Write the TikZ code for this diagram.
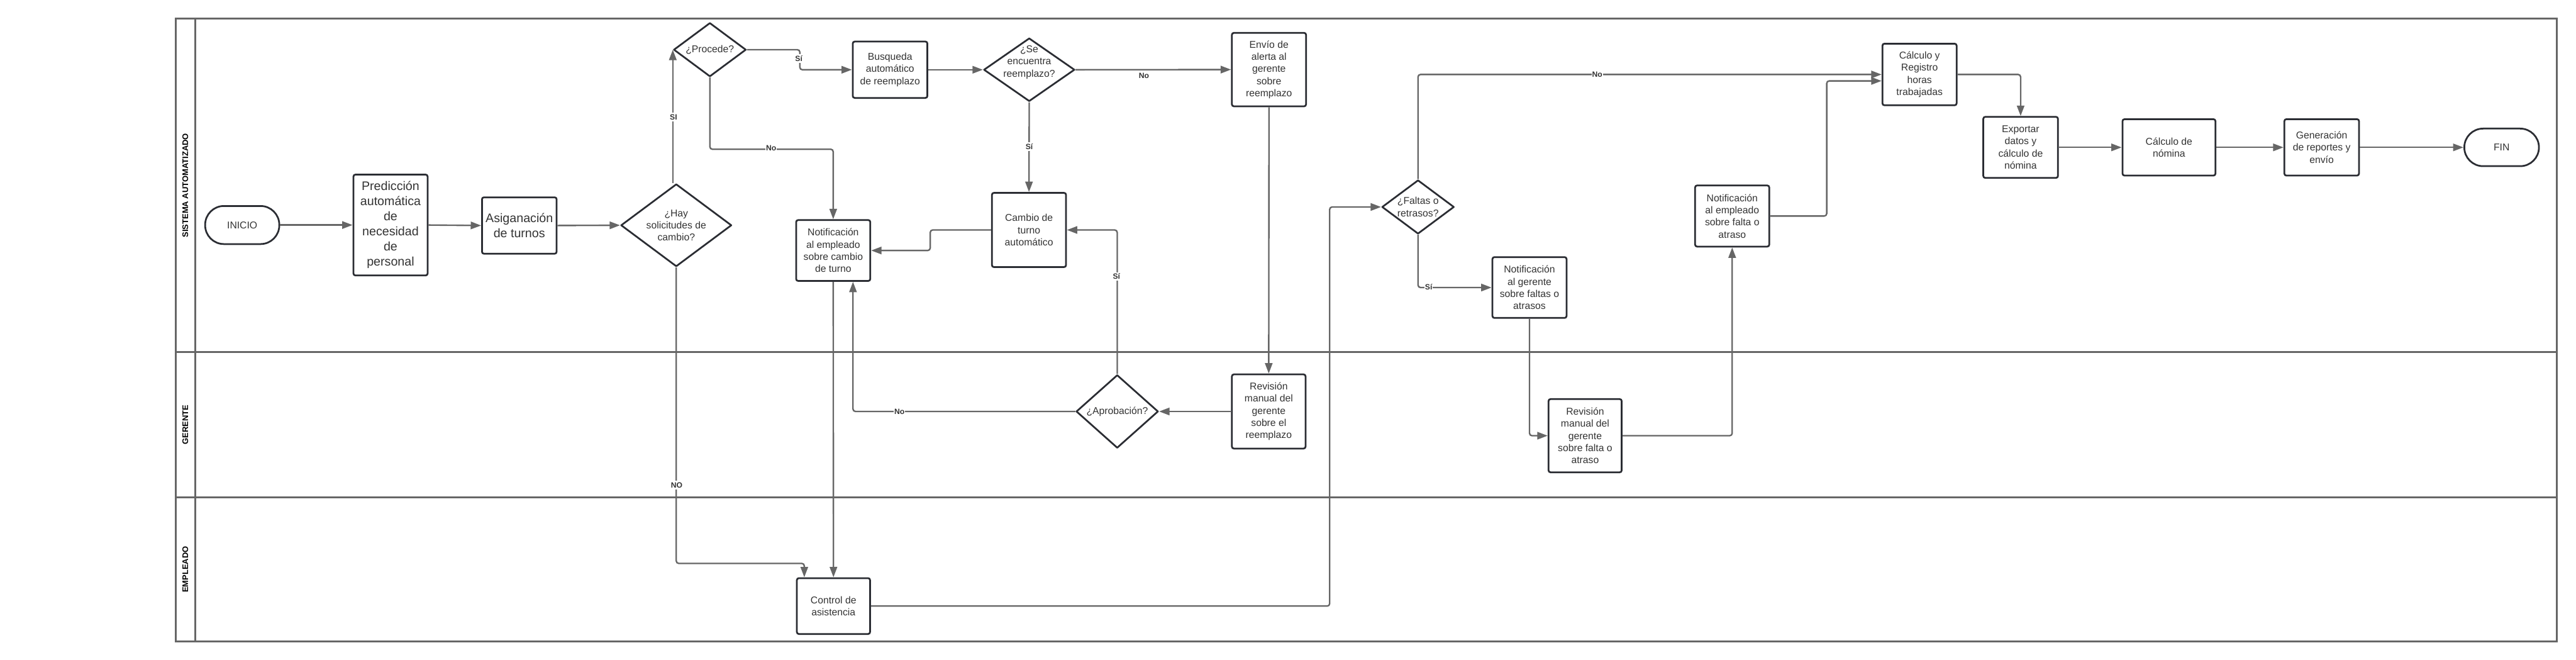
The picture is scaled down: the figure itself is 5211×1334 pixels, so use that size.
\documentclass[tikz,border=0pt]{standalone}
\usepackage{fontspec}
\setmainfont{Liberation Sans}
\usetikzlibrary{arrows.meta,shapes.geometric,calc}
\definecolor{conn}{HTML}{666666}
\definecolor{boxline}{HTML}{2B2D33}
\definecolor{txt}{HTML}{333333}
\begin{document}
\begin{tikzpicture}[x=1pt,y=-1pt,
  procbox/.style={draw=boxline, line width=3.5pt, rounded corners=4pt, fill=white, text=txt, align=center, inner sep=1pt, font=\fontsize{20}{24.6}\selectfont},
  bigproc/.style={procbox, font=\fontsize{25}{30.5}\selectfont},
  decbox/.style={draw=boxline, line width=3.5pt, line join=round, shape=diamond, inner sep=0pt, fill=white},
  dtext/.style={text=txt, align=center, inner sep=0pt, font=\fontsize{20}{24.6}\selectfont},
  termbox/.style={draw=boxline, line width=3.5pt, rounded corners=38pt, fill=white, text=txt, font=\fontsize{20}{24}\selectfont, minimum width=150pt, minimum height=77pt},
  arr/.style={draw=conn, line width=3pt, rounded corners=5pt, -{Triangle[length=21pt,width=15pt]}},
  lbl/.style={fill=white, text=txt, inner xsep=1pt, inner ysep=3pt, font=\fontsize{15.5}{16}\selectfont\bfseries},
  lanebox/.style={draw=conn, line width=3.5pt},
  lanetxt/.style={rotate=90, font=\fontsize{16.5}{17}\selectfont\bfseries, text=black}
]
\useasboundingbox (0,0) rectangle (5211,1334);

% swimlanes
\draw[lanebox] (356,38) rectangle (5172,1297);
\draw[lanebox] (395,38) -- (395,1297);
\draw[lanebox] (356,712) -- (5172,712);
\draw[lanebox] (356,1006) -- (5172,1006);
\node[lanetxt] (lane1) at (375,375) {SISTEMA AUTOMATIZADO};
\node[lanetxt] (lane2) at (375,859) {GERENTE};
\node[lanetxt] (lane3) at (375,1151.5) {EMPLEADO};

% nodes
\node[termbox] (inicio) at (490,455) {INICIO};
\node[bigproc, minimum width=150pt, minimum height=204pt] (pred) at (790,455) {Predicción\\automática\\de\\necesidad\\de\\personal};
\node[bigproc, minimum width=151pt, minimum height=114pt] (asig) at (1050.5,456) {Asiganación\\de turnos};
\node[decbox, minimum width=224pt, minimum height=167pt] (hay) at (1368,455.5) {};
\node[dtext] (hay-t) at (hay.center) {¿Hay\\solicitudes de\\cambio?};
\node[decbox, minimum width=146.5pt, minimum height=109pt] (proced) at (1436,100.5) {};
\node[dtext] (proced-t) at (proced.center) {¿Procede?};
\node[procbox, minimum width=151pt, minimum height=114pt] (busq) at (1800.5,141) {Busqueda\\automático\\de reemplazo};
\node[decbox, minimum width=184pt, minimum height=128pt] (seenc) at (2082,141) {};
\node[dtext] (seenc-t) at ([yshift=15pt]seenc.center) {¿Se\\encuentra\\reemplazo?};
\node[procbox, minimum width=150pt, minimum height=148.6pt] (envio) at (2567,140.7) {Envío de\\alerta al\\gerente\\sobre\\reemplazo};
\node[procbox, minimum width=150pt, minimum height=123pt] (notemp) at (1685.5,506.5) {Notificación\\al empleado\\sobre cambio\\de turno};
\node[procbox, minimum width=150pt, minimum height=150pt] (cambio) at (2081.5,465) {Cambio de\\turno\\automático};
\node[decbox, minimum width=166pt, minimum height=148pt] (aprob) at (2260,832) {};
\node[dtext] (aprob-t) at (aprob.center) {¿Aprobación?};
\node[procbox, minimum width=149pt, minimum height=150pt] (revr) at (2566.5,832) {Revisión\\manual del\\gerente\\sobre el\\reemplazo};
\node[procbox, minimum width=148pt, minimum height=113pt] (control) at (1686,1225.5) {Control de\\asistencia};
\node[decbox, minimum width=146pt, minimum height=109pt] (faltas) at (2868.5,418.5) {};
\node[dtext] (faltas-t) at (faltas.center) {¿Faltas o\\retrasos?};
\node[procbox, minimum width=150pt, minimum height=123pt] (notger) at (3094,581.4) {Notificación\\al gerente\\sobre faltas o\\atrasos};
\node[procbox, minimum width=148pt, minimum height=148pt] (revf) at (3206.5,881) {Revisión\\manual del\\gerente\\sobre falta o\\atraso};
\node[procbox, minimum width=150pt, minimum height=123.6pt] (notf) at (3504,436.8) {Notificación\\al empleado\\sobre falta o\\atraso};
\node[procbox, minimum width=150pt, minimum height=124.6pt] (calc) at (3883,150.6) {Cálculo y\\Registro\\horas\\trabajadas};
\node[procbox, minimum width=151pt, minimum height=123.5pt] (export) at (4087.5,298) {Exportar\\datos y\\cálculo de\\nómina};
\node[procbox, minimum width=188pt, minimum height=114pt] (nomina) at (4387.6,298) {Cálculo de\\nómina};
\node[procbox, minimum width=151pt, minimum height=114pt] (gen) at (4696.5,298) {Generación\\de reportes y\\envío};
\node[termbox, minimum width=151pt, minimum height=76pt] (fin) at (5060.5,298) {FIN};

% connectors
\draw[arr] (inicio.east) -- (pred.west);
\draw[arr] (pred.east) -- (asig.west);
\draw[arr] (asig.east) -- (hay.west);
\draw[arr] (proced.west |- hay.north) -- (proced.west);
\draw[arr] (proced.east) -- ++(107,0) |- (busq.west);
\draw[arr] (proced.south) -- ++(0,145) -| (notemp.north);
\draw[arr] (busq.east) -- (seenc.west);
\draw[arr] (seenc.east) -- (envio.west);
\draw[arr] (seenc.south) -- (cambio.north);
\draw[arr] (cambio.west) -- ++(-123,0) |- (notemp.east);
\draw[arr] (envio.south) -- (revr.north);
\draw[arr] (revr.west) -- (aprob.east);
\draw[arr] (aprob.north) |- (cambio.east);
\draw[arr] (aprob.west) -| ([xshift=40pt]notemp.south);
\draw[arr] (notemp.south) -- (control.north);
\draw[arr] (hay.south) -- ++(0,598.5) -| ([xshift=-59pt]control.north);
\draw[arr] (control.east) -- ++(928,0) |- (faltas.west);
\draw[arr] (faltas.north) |- (calc.west);
\draw[arr] (faltas.south) |- (notger.west);
\draw[arr] (notger.south) |- (revf.west);
\draw[arr] (revf.east) -| (notf.south);
\draw[arr] (notf.east) -- ++(114.5,0) |- ([yshift=-13pt]calc.west);
\draw[arr] (calc.east) -| (export.north);
\draw[arr] (export.east) -- (nomina.west);
\draw[arr] (nomina.east) -- (gen.west);
\draw[arr] (gen.east) -- (fin.west);

% connector labels
\node[lbl] (l-si1) at (1362.5,236.5) {SI};
\node[lbl] (l-si2) at (1616,118) {Sí};
\node[lbl] (l-no1) at (1560,300) {No};
\node[lbl] (l-si3) at (2082,296) {Sí};
\node[lbl] (l-no2) at (2314,153) {No};
\node[lbl] (l-si4) at (2258.5,559) {Sí};
\node[lbl] (l-no3) at (1819.5,832) {No};
\node[lbl] (l-no4) at (1369,981) {NO};
\node[lbl] (l-no5) at (3231,150.4) {No};
\node[lbl] (l-si5) at (2890,580) {Sí};
\end{tikzpicture}
\end{document}
